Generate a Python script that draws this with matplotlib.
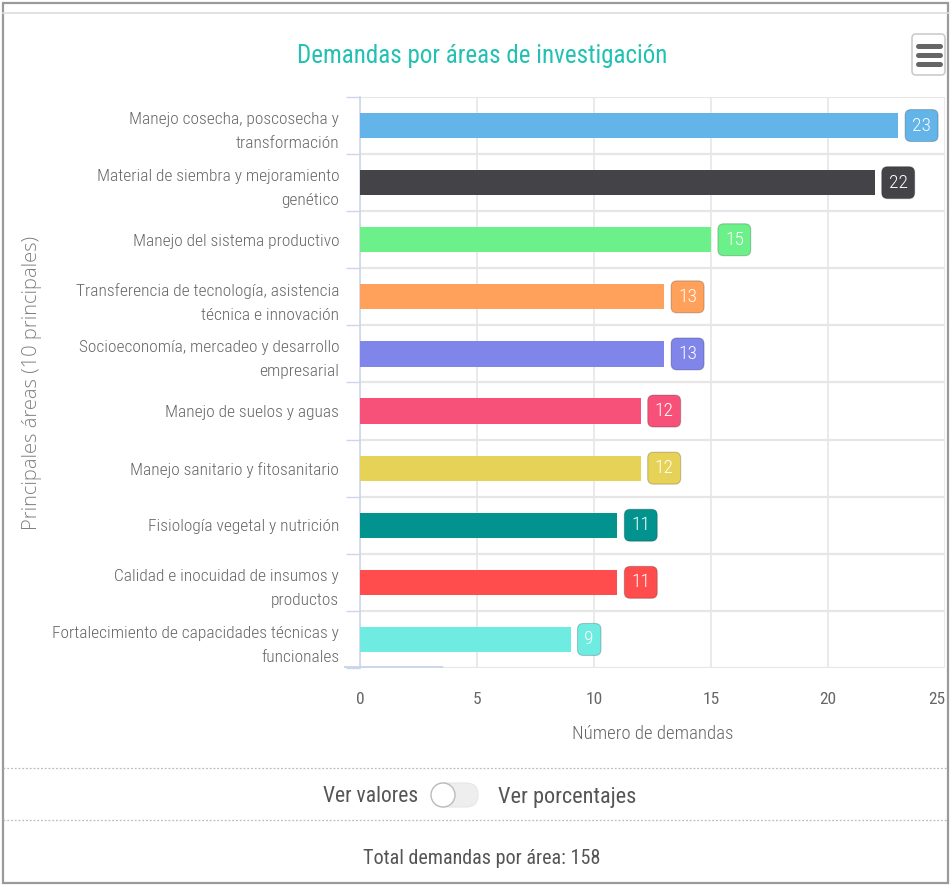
import matplotlib
matplotlib.use("Agg")
import matplotlib.pyplot as plt
from matplotlib import font_manager
from matplotlib.lines import Line2D
from matplotlib.patches import FancyBboxPatch, Circle, Rectangle

categories = [
    "Manejo cosecha, poscosecha y\ntransformación",
    "Material de siembra y mejoramiento\ngenético",
    "Manejo del sistema productivo",
    "Transferencia de tecnología, asistencia\ntécnica e innovación",
    "Socioeconomía, mercadeo y desarrollo\nempresarial",
    "Manejo de suelos y aguas",
    "Manejo sanitario y fitosanitario",
    "Fisiología vegetal y nutrición",
    "Calidad e inocuidad de insumos y\nproductos",
    "Fortalecimiento de capacidades técnicas y\nfuncionales",
]
values = [23, 22, 15, 13, 13, 12, 12, 11, 11, 9]
colors = ["#63b4e8", "#434348", "#6cf08a", "#ffa15a", "#8085e9",
          "#f7517a", "#e6d256", "#03938f", "#ff4d4d", "#6eece2"]
x_ticks = [0, 5, 10, 15, 20, 25]
total = 158

available = {f.name for f in font_manager.fontManager.ttflist}
narrow = next((f for f in ["Ubuntu Condensed", "Roboto Condensed", "Liberation Sans Narrow",
                           "Open Sans Condensed", "DejaVu Sans"] if f in available), "DejaVu Sans")
wide = next((f for f in ["Open Sans", "Lato", "DejaVu Sans"] if f in available), "DejaVu Sans")

W, H = 951, 886
fig = plt.figure(figsize=(W / 100, H / 100), dpi=100)

# overlay in pixel coordinates for the page decorations
deco = fig.add_axes([0, 0, 1, 1], zorder=0)
deco.set_xlim(0, W)
deco.set_ylim(H, 0)
deco.axis("off")
deco.add_patch(Rectangle((3, 3), 945, 880, fill=False, edgecolor="#9a9a9a", linewidth=1.6))
deco.plot([3, 948], [13, 13], color="#dddddd", linewidth=1.2)
deco.plot([3, 948], [768, 768], color="#bbbbbb", linewidth=0.9, linestyle=(0, (1.5, 1.5)))
deco.plot([3, 948], [820, 820], color="#bbbbbb", linewidth=0.9, linestyle=(0, (1.5, 1.5)))

# menu button
deco.add_patch(FancyBboxPatch((912, 34), 33, 41, boxstyle="round,pad=0,rounding_size=4",
                              facecolor="white", edgecolor="#cccccc", linewidth=1.2))
for yy in (45.5, 54.5, 64):
    deco.plot([918, 940], [yy, yy], color="#666666", linewidth=3.6, solid_capstyle="round")

# title
deco.text(482, 56, "Demandas por áreas de investigación", ha="center", va="center",
          fontsize=18, color="#22c1b2", family=narrow)

# toggle
deco.text(418, 797, "Ver valores", ha="right", va="center", fontsize=15.5, color="#555555", family=narrow)
deco.add_patch(FancyBboxPatch((432, 783), 46, 24, boxstyle="round,pad=0,rounding_size=12",
                              facecolor="#eeeeee", edgecolor="#e6e6e6", linewidth=0.8))
deco.add_patch(Circle((443, 795), 12, facecolor="white", edgecolor="#bbbbbb", linewidth=1.0, zorder=3))
deco.text(498, 797, "Ver porcentajes", ha="left", va="center", fontsize=16, color="#555555", family=narrow)
deco.text(482, 858, f"Total demandas por área: {total}", ha="center", va="center",
          fontsize=14.5, color="#555555", family=narrow)

# the main chart
ax = fig.add_axes([360 / W, (H - 668) / H, 585 / W, 571 / H], zorder=1)
ax.patch.set_alpha(0)
pos = list(range(len(categories)))
ax.barh(pos, values, height=0.44, color=colors, zorder=3)
ax.set_xlim(0, 25)
ax.set_ylim(len(categories) - 0.5, -0.5)

ax.set_xticks(x_ticks)
ax.set_xticklabels([str(t) for t in x_ticks], family=narrow, fontsize=12.5, color="#666666")
ax.get_xticklabels()[-1].set_horizontalalignment("right")
ax.set_yticks(pos)
ax.set_yticklabels(categories, family=narrow, fontsize=12.5, color="#666666", linespacing=1.75,
                   fontweight="light")
ax.set_yticks([p + 0.5 for p in [-1] + pos], minor=True)
ax.tick_params(axis="y", which="major", length=0, pad=15)
ax.tick_params(axis="y", which="minor", length=10, color="#ccd6eb", width=1)
ax.tick_params(axis="x", length=0, pad=17)
ax.grid(axis="x", color="#e6e6e6", linewidth=1.2, zorder=0)
ax.grid(axis="y", which="minor", color="#e6e6e6", linewidth=1.6, zorder=0)
for side in ("top", "right", "bottom"):
    ax.spines[side].set_visible(False)
ax.spines["left"].set_color("#ccd6eb")
ax.spines["left"].set_linewidth(1.2)

ax.set_xlabel("Número de demandas", family=narrow, fontsize=13.5, color="#666666", labelpad=13,
              fontweight="light")
fig.text(32 / W, 1 - 383 / H, "Principales áreas (10 principales)", rotation=90,
         ha="center", va="center", fontsize=14.5, color="#808080", family=wide, fontweight="light")

for p, v, c in zip(pos, values, colors):
    ax.annotate(str(v), (v, p), xytext=(10, 0), textcoords="offset points",
                ha="left", va="center", fontsize=14, color="white", family=narrow,
                fontweight="light",
                bbox=dict(boxstyle="round,pad=0.36,rounding_size=0.3", facecolor=c,
                          edgecolor="#00000033", linewidth=0.8), zorder=4)

# partial x axis line as in the screenshot
fig.add_artist(Line2D([345 / W, 442 / W], [1 - 667 / H, 1 - 667 / H],
                      color="#ccd6eb", linewidth=1.4))

fig.savefig("out.png", dpi=100)
